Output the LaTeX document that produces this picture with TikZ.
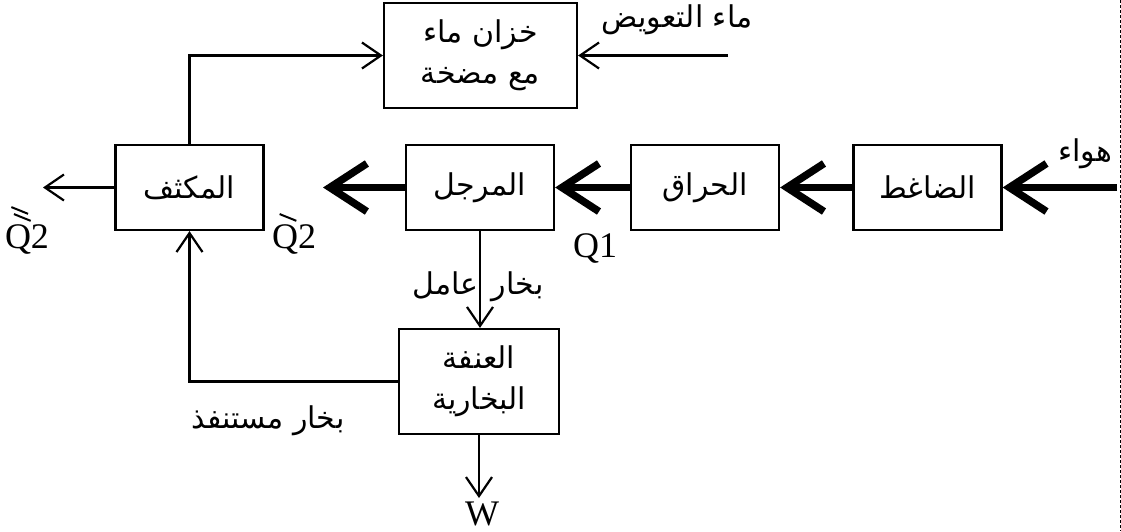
\documentclass[tikz,border=0pt]{standalone}
\usepackage{fontspec}
\usepackage{graphicx}
\setmainfont{Liberation Serif}
\newfontfamily\arabicfont[Script=Arabic]{DejaVu Sans}
\TeXXeTstate=1
\usetikzlibrary{arrows.meta,positioning}
\newcommand{\artext}[1]{{\arabicfont\beginR #1\endR}}
\newcommand{\markstroke}{\rotatebox{-22}{\rule{18pt}{2pt}}}
\newcommand{\markedq}[1]{\ooalign{Q\cr\hidewidth\kern6pt\raisebox{33pt}{#1}\hidewidth\cr}}
\tikzset{
    block/.style={draw, line width=2.2pt, minimum width=148pt, minimum height=85pt, align=center, font=\fontsize{30}{41}\selectfont},
    flow/.style={line width=2.2pt, -{Straight Barb[length=19pt,width=26pt]}},
    heavy/.style={line width=7.5pt, -{Straight Barb[length=37pt,width=48pt]}},
    lbl/.style={font=\fontsize{36}{40}\selectfont, inner sep=0pt, anchor=base},
    arlbl/.style={font=\fontsize{30}{34}\selectfont, inner sep=0pt}
}

\begin{document}
\begin{tikzpicture}[x=1pt,y=-1pt]
    \useasboundingbox (0,0) rectangle (1121,531);

    \node[block, minimum width=193pt, minimum height=105pt] (tank) at (480.5,55.5) {\artext{خزان ماء}\\\artext{مع مضخة}};
    \node[block] (condenser) at (189.5,187.5) {\artext{المكثف}};
    \node[block] (boiler) at (480,187.5) {\artext{المرجل}};
    \node[block] (burner) at (705,187.5) {\artext{الحراق}};
    \node[block] (compressor) at (927.5,187.5) {\artext{الضاغط}};
    \node[block, minimum width=160pt, minimum height=105pt] (turbine) at (479,381.5) {\artext{العنفة}\\\artext{البخارية}};

    \coordinate (airIn) at (1117,187.5);
    \coordinate (heatOut) at (323,187.5);
    \coordinate (wasteOut) at (43,187.5);
    \coordinate (makeupIn) at (728,55.5);
    \coordinate (workOut) at (479,498);

    \draw[heavy] (airIn) -- (compressor);
    \draw[heavy] (compressor) -- (burner);
    \draw[heavy] (burner) -- (boiler);
    \draw[heavy] (boiler) -- (heatOut);

    \draw[flow] (condenser) -- (wasteOut);
    \draw[flow] (condenser.north) |- (tank.west);
    \draw[flow] (makeupIn) -- (tank.east);
    \draw[flow] (boiler.south) -- (boiler.south |- turbine.north);
    \draw[flow] (turbine.west) -| (condenser.south);
    \draw[flow] (turbine.south) -- (workOut);

    \node[arlbl] (airLbl) at (1085,154) {\artext{هواء}};
    \node[arlbl] (makeupLbl) at (677,20) {\artext{ماء التعويض}};
    \node[arlbl] (steamLbl) at (478,287) {\artext{بخار\hspace{0.45em}عامل}};
    \node[arlbl] (exhaustLbl) at (268,421) {\artext{بخار مستنفذ}};
    \node[lbl] (q1) at (595,257) {Q1};
    \node[lbl] (q2a) at (294,248) {\markedq{\markstroke}2};
    \node[lbl] (q2b) at (27,248) {\markedq{\markstroke\kern-20pt\raisebox{7pt}{\markstroke}}2};
    \node[lbl] (w) at (482,525) {W};

    \draw[dashed, line width=0.8pt, dash pattern=on 3pt off 2pt] (1120,0) -- (1120,531);
\end{tikzpicture}
\end{document}
